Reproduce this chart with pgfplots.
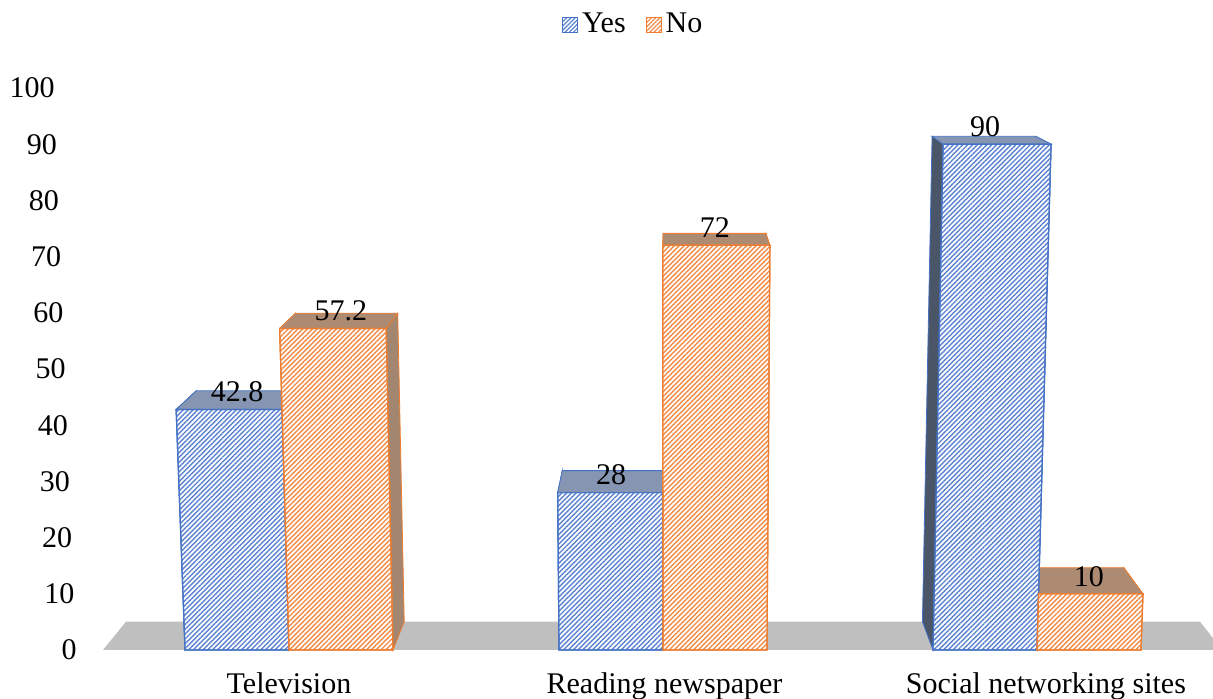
\documentclass[border=0pt]{standalone}
\usepackage{fontspec}
\setmainfont{Liberation Serif}
\usepackage{pgfplots}
\usepackage{pgfplotstable}
\pgfplotsset{compat=1.18}
\usetikzlibrary{patterns.meta}

\definecolor{yesblue}{HTML}{4472C4}
\definecolor{noorange}{HTML}{ED7D31}
\definecolor{yeshatch}{HTML}{5B82D0}
\definecolor{nohatch}{HTML}{F08A45}
\definecolor{yestop}{HTML}{8595B2}
\definecolor{yesside}{HTML}{4A5568}
\definecolor{notop}{HTML}{AD8B73}
\definecolor{noside}{HTML}{A3866F}
\definecolor{floorgray}{HTML}{BFBFBF}

% share of respondents (%)
\pgfplotstableread{
cat yes no
0 42.8 57.2
1 28 72
2 90 10
}\surveydata

% perspective of the 3-D look: vanishing point (axis units),
% depth scale of the back faces, widening of the front faces
\def\vpx{1.0214}
\def\vpy{124.56}
\def\dscale{0.9595}
\def\lean{0.00042}

% corners of one box: left edge, right edge, height
\newcommand\boxcorners[3]{%
  \pgfmathsetmacro\pXa{#1}%
  \pgfmathsetmacro\pXb{#2}%
  \pgfmathsetmacro\pH{#3}%
  \pgfmathsetmacro\pFa{\vpx+(\pXa-\vpx)*(1+\lean*\pH)}%
  \pgfmathsetmacro\pFb{\vpx+(\pXb-\vpx)*(1+\lean*\pH)}%
  \pgfmathsetmacro\pBFa{\vpx+\dscale*(\pFa-\vpx)}%
  \pgfmathsetmacro\pBFb{\vpx+\dscale*(\pFb-\vpx)}%
  \pgfmathsetmacro\pBXa{\vpx+\dscale*(\pXa-\vpx)}%
  \pgfmathsetmacro\pBXb{\vpx+\dscale*(\pXb-\vpx)}%
  \pgfmathsetmacro\pBH{\vpy+\dscale*(\pH-\vpy)}%
  \pgfmathsetmacro\pBZ{\vpy*(1-\dscale)}%
}

% sides and top of a bar: row, column, left, right, top colour, side colour, edge colour
\newcommand\barback[7]{%
  \pgfplotstablegetelem{#1}{#2}\of\surveydata
  \boxcorners{#3}{#4}{\pgfplotsretval}%
  \addplot[fill=#6, draw=#7, line width=0.4pt, forget plot]
    coordinates {(\pXa,0) (\pFa,\pH) (\pBFa,\pBH) (\pBXa,\pBZ)} -- cycle;
  \addplot[fill=#6, draw=#7, line width=0.4pt, forget plot]
    coordinates {(\pXb,0) (\pFb,\pH) (\pBFb,\pBH) (\pBXb,\pBZ)} -- cycle;
  \addplot[fill=#5, draw=#7, line width=0.4pt, forget plot]
    coordinates {(\pFa,\pH) (\pFb,\pH) (\pBFb,\pBH) (\pBFa,\pBH)} -- cycle;
}

% hatched front face of a bar: row, column, left, right, hatch colour, edge colour
\newcommand\barfront[6]{%
  \pgfplotstablegetelem{#1}{#2}\of\surveydata
  \boxcorners{#3}{#4}{\pgfplotsretval}%
  \addplot[preaction={fill=white},
    pattern={Lines[angle=45,distance=1.7pt,line width=0.7pt]}, pattern color=#5,
    draw=#6, line width=0.6pt, forget plot]
    coordinates {(\pXa,0) (\pXb,0) (\pFb,\pH) (\pFa,\pH)} -- cycle;
}

\begin{document}
\fontsize{15}{18}\selectfont
\begin{tikzpicture}
\begin{axis}[
  name=ax,
  scale only axis,
  width=556.5pt, height=281pt,
  xmin=-0.50535, xmax=2.4706,
  ymin=0, ymax=100,
  clip=false,
  axis line style={draw=none},
  tick style={draw=none},
  major tick length=0pt,
  ytick={0,10,...,100},
  xtick={0,1.004,2.024},
  xticklabels={Television, Reading newspaper, Social networking sites},
  /pgf/number format/assume math mode=true,
  yticklabel style={anchor=east, inner sep=0pt, xshift={-11.5pt-1.1pt*\ticknum}},
  xticklabel style={anchor=north, inner sep=0pt, yshift=-11.2pt},
  legend columns=2,
  legend style={draw=none, fill=none, at={(0.480,1.112)}, anchor=center,
    nodes={inner sep=2pt},
    /tikz/every even column/.append style={column sep=8pt}},
  every node near coord/.append style={anchor=center, yshift=8.75pt},
]

% floor
\boxcorners{-0.4973}{2.4955}{0}
\addplot[fill=floorgray, draw=none, forget plot]
  coordinates {(\pXa,0) (\pXb,0) (\pBXb,\pBZ) (\pBXa,\pBZ)} -- cycle;

% sides and tops
\barback{0}{yes}{-0.278}{0}{yestop}{yesside}{yesblue}
\barback{0}{no}{0}{0.278}{notop}{noside}{noorange}
\barback{1}{yes}{0.722}{1}{yestop}{yesside}{yesblue}
\barback{1}{no}{1}{1.278}{notop}{noside}{noorange}
\barback{2}{yes}{1.722}{2}{yestop}{yesside}{yesblue}
\barback{2}{no}{2}{2.278}{notop}{noside}{noorange}

% front faces
\barfront{0}{yes}{-0.278}{0}{yeshatch}{yesblue}
\barfront{0}{no}{0}{0.278}{nohatch}{noorange}
\barfront{1}{yes}{0.722}{1}{yeshatch}{yesblue}
\barfront{1}{no}{1}{1.278}{nohatch}{noorange}
\barfront{2}{yes}{1.722}{2}{yeshatch}{yesblue}
\barfront{2}{no}{2}{2.278}{nohatch}{noorange}

% value labels
\addplot[draw=none, no marks, forget plot, nodes near coords, point meta=explicit]
  table[x expr=\thisrow{cat}-0.139, y=yes, meta=yes]{\surveydata};
\addplot[draw=none, no marks, forget plot, nodes near coords, point meta=explicit]
  table[x expr=\thisrow{cat}+0.139, y=no, meta=no]{\surveydata};

\addlegendimage{legend image code/.code={
  \draw[preaction={fill=white}, pattern={Lines[angle=45,distance=1.5pt,line width=0.6pt]},
    pattern color=yeshatch, draw=yesblue, line width=0.5pt]
    (0pt,-3.75pt) rectangle (7.5pt,3.75pt);}}
\addlegendentry{Yes}
\addlegendimage{legend image code/.code={
  \draw[preaction={fill=white}, pattern={Lines[angle=45,distance=1.5pt,line width=0.6pt]},
    pattern color=nohatch, draw=noorange, line width=0.5pt]
    (0pt,-3.75pt) rectangle (7.5pt,3.75pt);}}
\addlegendentry{No}
\end{axis}
\pgfresetboundingbox
\path ([xshift=-50pt,yshift=-24.5pt]ax.south west) rectangle ([yshift=44pt]ax.north east);
\end{tikzpicture}
\end{document}
